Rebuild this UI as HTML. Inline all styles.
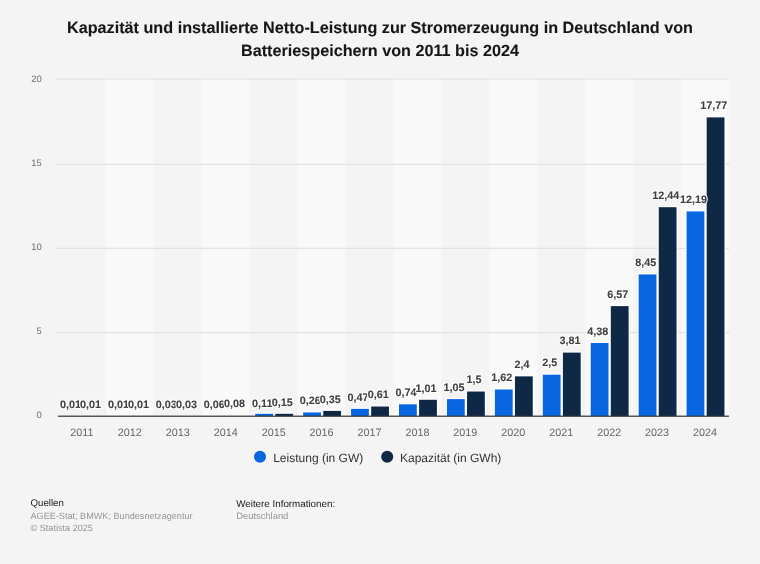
<!DOCTYPE html>
<html><head><meta charset="utf-8"><style>
html,body{margin:0;padding:0;}
body{width:760px;height:564px;overflow:hidden;background:#f4f4f4;font-family:"Liberation Sans",sans-serif;}
svg{display:block;will-change:transform;text-rendering:geometricPrecision;font-family:"Liberation Sans",sans-serif;}
.dl,.dlh{font-size:10.8px;font-weight:bold;}
.dl{fill:#414141;stroke:#414141;stroke-width:0.1px;}
.dlh{fill:#ffffff;stroke:#ffffff;stroke-width:2.2px;stroke-linejoin:round;}
</style></head><body>
<svg width="760" height="564" viewBox="0 0 760 564">
<rect width="760" height="564" fill="#f4f4f4"/>
<rect x="105.93" y="79.3" width="47.93" height="336.70" fill="#f9f9f9"/>
<rect x="201.79" y="79.3" width="47.93" height="336.70" fill="#f9f9f9"/>
<rect x="297.64" y="79.3" width="47.93" height="336.70" fill="#f9f9f9"/>
<rect x="393.50" y="79.3" width="47.93" height="336.70" fill="#f9f9f9"/>
<rect x="489.36" y="79.3" width="47.93" height="336.70" fill="#f9f9f9"/>
<rect x="585.21" y="79.3" width="47.93" height="336.70" fill="#f9f9f9"/>
<rect x="681.07" y="79.3" width="47.93" height="336.70" fill="#f9f9f9"/>
<rect x="56" y="332.10" width="673.00" height="1" fill="#dddddd"/>
<rect x="56" y="247.80" width="673.00" height="1" fill="#dddddd"/>
<rect x="56" y="163.90" width="673.00" height="1" fill="#dddddd"/>
<rect x="56" y="78.50" width="673.00" height="1" fill="#dddddd"/>
<text x="41.7" y="418.17" text-anchor="end" font-size="9.4" fill="#707070">0</text>
<text x="41.7" y="334.07" text-anchor="end" font-size="9.4" fill="#707070">5</text>
<text x="41.7" y="250.17" text-anchor="end" font-size="9.4" fill="#707070">10</text>
<text x="41.7" y="166.17" text-anchor="end" font-size="9.4" fill="#707070">15</text>
<text x="41.7" y="81.97" text-anchor="end" font-size="9.4" fill="#707070">20</text>
<rect x="254.01" y="412.80" width="20.20" height="3.20" fill="#ffffff"/>
<rect x="274.11" y="412.80" width="20.20" height="3.20" fill="#ffffff"/>
<rect x="255.21" y="413.80" width="17.8" height="2.20" fill="#0766e0"/>
<rect x="275.31" y="413.80" width="17.8" height="2.20" fill="#0f2846"/>
<rect x="301.94" y="411.42" width="20.20" height="4.58" fill="#ffffff"/>
<rect x="322.04" y="409.90" width="20.20" height="6.10" fill="#ffffff"/>
<rect x="303.14" y="412.42" width="17.8" height="3.58" fill="#0766e0"/>
<rect x="323.24" y="410.90" width="17.8" height="5.10" fill="#0f2846"/>
<rect x="349.87" y="407.88" width="20.20" height="8.12" fill="#ffffff"/>
<rect x="369.97" y="405.52" width="20.20" height="10.48" fill="#ffffff"/>
<rect x="351.07" y="408.88" width="17.8" height="7.12" fill="#0766e0"/>
<rect x="371.17" y="406.52" width="17.8" height="9.48" fill="#0f2846"/>
<rect x="397.80" y="403.33" width="20.20" height="12.67" fill="#ffffff"/>
<rect x="417.90" y="398.78" width="20.20" height="17.22" fill="#ffffff"/>
<rect x="399.00" y="404.33" width="17.8" height="11.67" fill="#0766e0"/>
<rect x="419.10" y="399.78" width="17.8" height="16.22" fill="#0f2846"/>
<rect x="445.73" y="398.11" width="20.20" height="17.89" fill="#ffffff"/>
<rect x="465.83" y="390.53" width="20.20" height="25.47" fill="#ffffff"/>
<rect x="446.93" y="399.11" width="17.8" height="16.89" fill="#0766e0"/>
<rect x="467.03" y="391.53" width="17.8" height="24.47" fill="#0f2846"/>
<rect x="493.66" y="388.50" width="20.20" height="27.50" fill="#ffffff"/>
<rect x="513.76" y="375.36" width="20.20" height="40.64" fill="#ffffff"/>
<rect x="494.86" y="389.50" width="17.8" height="26.50" fill="#0766e0"/>
<rect x="514.96" y="376.36" width="17.8" height="39.64" fill="#0f2846"/>
<rect x="541.59" y="373.68" width="20.20" height="42.32" fill="#ffffff"/>
<rect x="561.69" y="351.60" width="20.20" height="64.40" fill="#ffffff"/>
<rect x="542.79" y="374.68" width="17.8" height="41.32" fill="#0766e0"/>
<rect x="562.89" y="352.60" width="17.8" height="63.40" fill="#0f2846"/>
<rect x="589.51" y="342.00" width="20.20" height="74.00" fill="#ffffff"/>
<rect x="609.61" y="305.10" width="20.20" height="110.90" fill="#ffffff"/>
<rect x="590.71" y="343.00" width="17.8" height="73.00" fill="#0766e0"/>
<rect x="610.81" y="306.10" width="17.8" height="109.90" fill="#0f2846"/>
<rect x="637.44" y="273.42" width="20.20" height="142.58" fill="#ffffff"/>
<rect x="657.54" y="206.19" width="20.20" height="209.81" fill="#ffffff"/>
<rect x="638.64" y="274.42" width="17.8" height="141.58" fill="#0766e0"/>
<rect x="658.74" y="207.19" width="17.8" height="208.81" fill="#0f2846"/>
<rect x="685.37" y="210.40" width="20.20" height="205.60" fill="#ffffff"/>
<rect x="705.47" y="116.38" width="20.20" height="299.62" fill="#ffffff"/>
<rect x="686.57" y="211.40" width="17.8" height="204.60" fill="#0766e0"/>
<rect x="706.67" y="117.38" width="17.8" height="298.62" fill="#0f2846"/>
<rect x="58.00" y="415.6" width="671.00" height="1.2" fill="#333333"/>
<text class="dlh" x="70.50" y="407.80" text-anchor="middle">0,01</text>
<text class="dl" x="70.50" y="407.80" text-anchor="middle">0,01</text>
<text class="dlh" x="90.60" y="407.80" text-anchor="middle">0,01</text>
<text class="dl" x="90.60" y="407.80" text-anchor="middle">0,01</text>
<text class="dlh" x="118.43" y="407.80" text-anchor="middle">0,01</text>
<text class="dl" x="118.43" y="407.80" text-anchor="middle">0,01</text>
<text class="dlh" x="138.53" y="407.80" text-anchor="middle">0,01</text>
<text class="dl" x="138.53" y="407.80" text-anchor="middle">0,01</text>
<text class="dlh" x="166.36" y="407.80" text-anchor="middle">0,03</text>
<text class="dl" x="166.36" y="407.80" text-anchor="middle">0,03</text>
<text class="dlh" x="186.46" y="407.80" text-anchor="middle">0,03</text>
<text class="dl" x="186.46" y="407.80" text-anchor="middle">0,03</text>
<text class="dlh" x="214.29" y="407.59" text-anchor="middle">0,06</text>
<text class="dl" x="214.29" y="407.59" text-anchor="middle">0,06</text>
<text class="dlh" x="234.39" y="407.25" text-anchor="middle">0,08</text>
<text class="dl" x="234.39" y="407.25" text-anchor="middle">0,08</text>
<text class="dlh" x="262.21" y="406.75" text-anchor="middle">0,11</text>
<text class="dl" x="262.21" y="406.75" text-anchor="middle">0,11</text>
<text class="dlh" x="282.31" y="406.07" text-anchor="middle">0,15</text>
<text class="dl" x="282.31" y="406.07" text-anchor="middle">0,15</text>
<text class="dlh" x="310.14" y="404.22" text-anchor="middle">0,26</text>
<text class="dl" x="310.14" y="404.22" text-anchor="middle">0,26</text>
<text class="dlh" x="330.24" y="402.70" text-anchor="middle">0,35</text>
<text class="dl" x="330.24" y="402.70" text-anchor="middle">0,35</text>
<text class="dlh" x="358.07" y="400.68" text-anchor="middle">0,47</text>
<text class="dl" x="358.07" y="400.68" text-anchor="middle">0,47</text>
<text class="dlh" x="378.17" y="398.32" text-anchor="middle">0,61</text>
<text class="dl" x="378.17" y="398.32" text-anchor="middle">0,61</text>
<text class="dlh" x="406.00" y="396.13" text-anchor="middle">0,74</text>
<text class="dl" x="406.00" y="396.13" text-anchor="middle">0,74</text>
<text class="dlh" x="426.10" y="391.58" text-anchor="middle">1,01</text>
<text class="dl" x="426.10" y="391.58" text-anchor="middle">1,01</text>
<text class="dlh" x="453.93" y="390.91" text-anchor="middle">1,05</text>
<text class="dl" x="453.93" y="390.91" text-anchor="middle">1,05</text>
<text class="dlh" x="474.03" y="383.33" text-anchor="middle">1,5</text>
<text class="dl" x="474.03" y="383.33" text-anchor="middle">1,5</text>
<text class="dlh" x="501.86" y="381.30" text-anchor="middle">1,62</text>
<text class="dl" x="501.86" y="381.30" text-anchor="middle">1,62</text>
<text class="dlh" x="521.96" y="368.16" text-anchor="middle">2,4</text>
<text class="dl" x="521.96" y="368.16" text-anchor="middle">2,4</text>
<text class="dlh" x="549.79" y="366.48" text-anchor="middle">2,5</text>
<text class="dl" x="549.79" y="366.48" text-anchor="middle">2,5</text>
<text class="dlh" x="569.89" y="344.40" text-anchor="middle">3,81</text>
<text class="dl" x="569.89" y="344.40" text-anchor="middle">3,81</text>
<text class="dlh" x="597.71" y="334.80" text-anchor="middle">4,38</text>
<text class="dl" x="597.71" y="334.80" text-anchor="middle">4,38</text>
<text class="dlh" x="617.81" y="297.90" text-anchor="middle">6,57</text>
<text class="dl" x="617.81" y="297.90" text-anchor="middle">6,57</text>
<text class="dlh" x="645.64" y="266.22" text-anchor="middle">8,45</text>
<text class="dl" x="645.64" y="266.22" text-anchor="middle">8,45</text>
<text class="dlh" x="665.74" y="198.99" text-anchor="middle">12,44</text>
<text class="dl" x="665.74" y="198.99" text-anchor="middle">12,44</text>
<text class="dlh" x="693.57" y="203.20" text-anchor="middle">12,19</text>
<text class="dl" x="693.57" y="203.20" text-anchor="middle">12,19</text>
<text class="dlh" x="713.67" y="109.18" text-anchor="middle">17,77</text>
<text class="dl" x="713.67" y="109.18" text-anchor="middle">17,77</text>
<text x="81.96" y="436" text-anchor="middle" font-size="10.8" fill="#666666">2011</text>
<text x="129.89" y="436" text-anchor="middle" font-size="10.8" fill="#666666">2012</text>
<text x="177.82" y="436" text-anchor="middle" font-size="10.8" fill="#666666">2013</text>
<text x="225.75" y="436" text-anchor="middle" font-size="10.8" fill="#666666">2014</text>
<text x="273.68" y="436" text-anchor="middle" font-size="10.8" fill="#666666">2015</text>
<text x="321.61" y="436" text-anchor="middle" font-size="10.8" fill="#666666">2016</text>
<text x="369.54" y="436" text-anchor="middle" font-size="10.8" fill="#666666">2017</text>
<text x="417.46" y="436" text-anchor="middle" font-size="10.8" fill="#666666">2018</text>
<text x="465.39" y="436" text-anchor="middle" font-size="10.8" fill="#666666">2019</text>
<text x="513.32" y="436" text-anchor="middle" font-size="10.8" fill="#666666">2020</text>
<text x="561.25" y="436" text-anchor="middle" font-size="10.8" fill="#666666">2021</text>
<text x="609.18" y="436" text-anchor="middle" font-size="10.8" fill="#666666">2022</text>
<text x="657.11" y="436" text-anchor="middle" font-size="10.8" fill="#666666">2023</text>
<text x="705.04" y="436" text-anchor="middle" font-size="10.8" fill="#666666">2024</text>
<circle cx="260" cy="456.8" r="6" fill="#0766e0"/>
<text x="273.2" y="461.6" font-size="12.0" fill="#333333">Leistung (in GW)</text>
<circle cx="387.2" cy="456.8" r="6" fill="#0f2846"/>
<text x="400" y="461.6" font-size="12.0" fill="#333333">Kapazität (in GWh)</text>
<text x="380" y="32.7" text-anchor="middle" font-size="16.2" font-weight="bold" fill="#161616" stroke="#161616" stroke-width="0.08">Kapazität und installierte Netto-Leistung zur Stromerzeugung in Deutschland von</text>
<text x="380" y="56.0" text-anchor="middle" font-size="16.2" font-weight="bold" fill="#161616" stroke="#161616" stroke-width="0.08">Batteriespeichern von 2011 bis 2024</text>
<text x="30.5" y="506.4" font-size="9.7" fill="#222222">Quellen</text>
<text x="30.5" y="519" font-size="9.12" fill="#959595">AGEE-Stat; BMWK; Bundesnetzagentur</text>
<text x="30.5" y="531.3" font-size="9.12" fill="#959595">© Statista 2025</text>
<text x="236.2" y="506.5" font-size="9.8" fill="#222222">Weitere Informationen:</text>
<text x="236.2" y="519" font-size="9.4" fill="#959595">Deutschland</text>
</svg>
</body></html>
